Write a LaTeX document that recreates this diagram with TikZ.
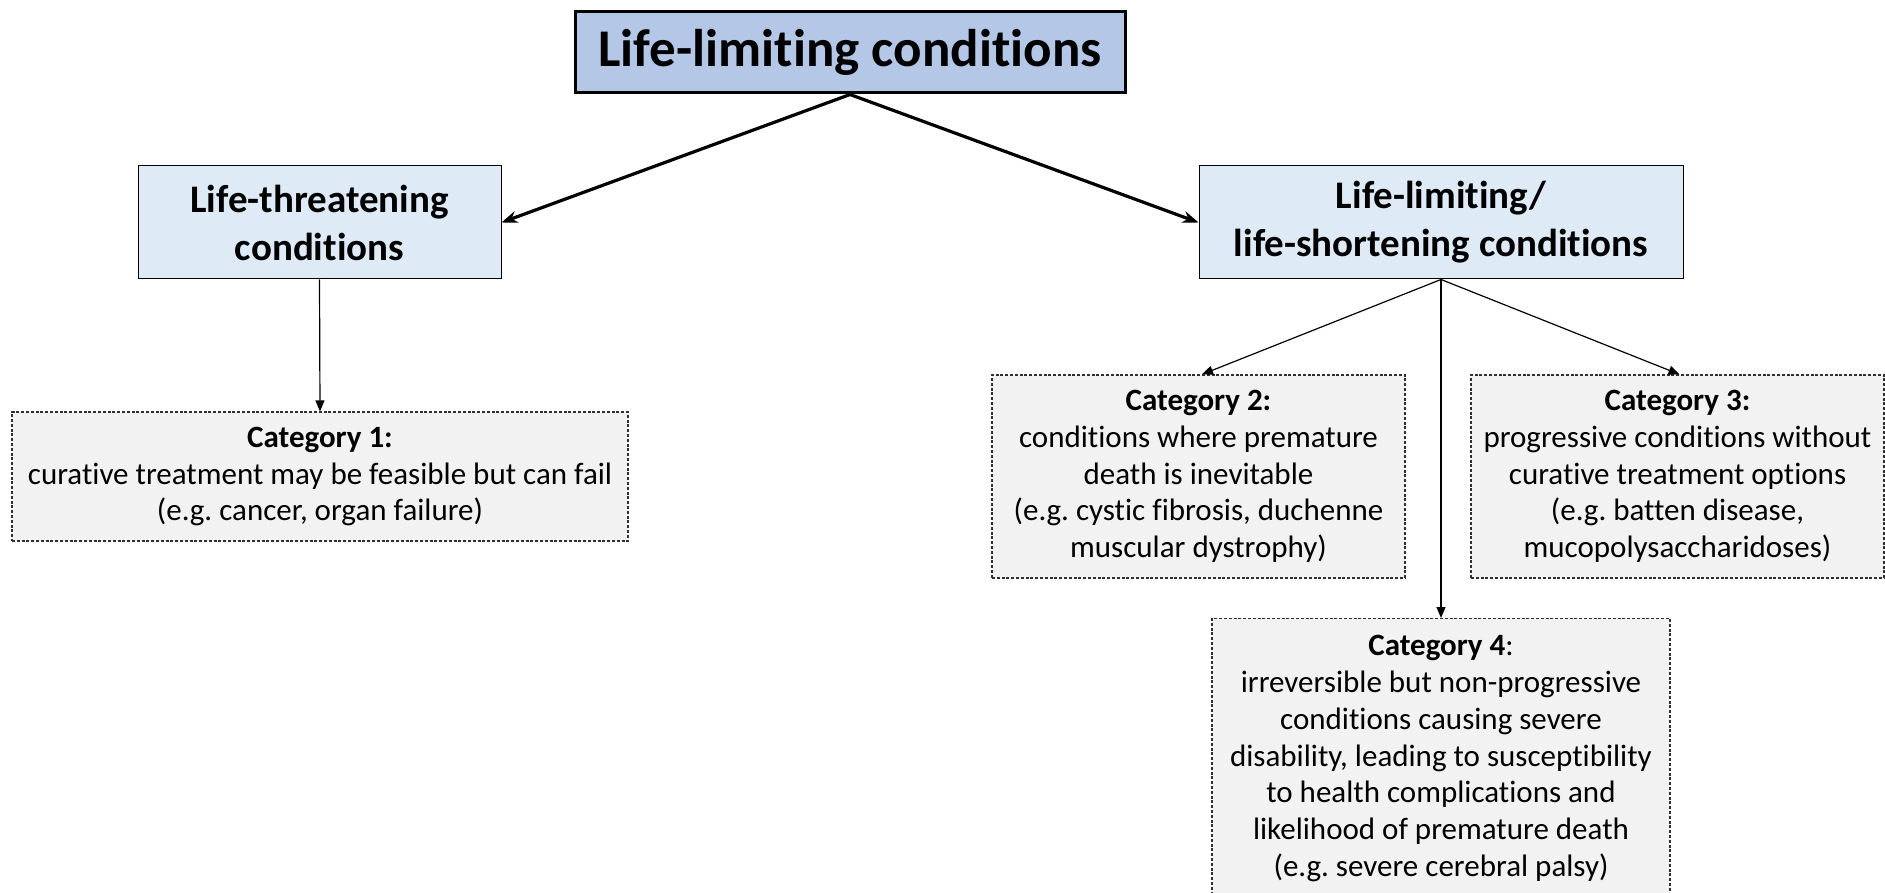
\documentclass[tikz,border=0pt]{standalone}
\usepackage{fontspec}
\setmainfont{Carlito}[Ligatures=NoCommon]
\usetikzlibrary{arrows.meta}
\frenchspacing
\definecolor{rootfill}{HTML}{B4C7E7}
\definecolor{midfill}{HTML}{DEEBF7}
\definecolor{catfill}{HTML}{F2F2F2}
\definecolor{catline}{HTML}{303030}
\begin{document}
\begin{tikzpicture}[x=1pt,y=1pt,
  rootbox/.style={draw=black, line width=3pt, fill=rootfill, minimum width=550pt, minimum height=81pt, inner sep=0pt,
    font=\fontsize{53}{60}\selectfont\bfseries},
  midbox/.style={draw=black, line width=1pt, fill=midfill, minimum height=113pt, inner sep=0pt, align=center,
    font=\fontsize{39}{48}\selectfont\bfseries},
  catbox/.style={draw=catline, line width=1.2pt, dash pattern=on 3pt off 1.8pt, fill=catfill, inner xsep=0pt, inner ysep=0pt, align=center,
    font=\fontsize{31}{36.7}\selectfont},
  bigarrow/.style={line width=3.2pt, -{Stealth[length=16pt,width=12pt]}},
  thinarrow/.style={line width=1.2pt, -{Triangle[length=11pt,width=9pt]}}
]
\useasboundingbox (0,0) rectangle (1885,-893);
\clip (0,0) rectangle (1885,-893);

\node[rootbox] (root) at (850,-52.5) {Life-limiting conditions};

\node[midbox, minimum width=363pt] (lt) at (319.5,-222.5) {Life-threatening\\conditions};
\node[midbox, minimum width=484pt] (ll) at (1441,-222.5) {Life-limiting/\\life-shortening conditions};

\node[catbox, minimum width=616pt, minimum height=129pt] (c1) at (320,-476.5)
  {\textbf{Category 1:}\\curative treatment may be feasible but can fail\\(e.g. cancer, organ failure)};
\node[catbox, minimum width=413pt, minimum height=203pt] (c2) at (1198.5,-476.5)
  {\textbf{Category 2:}\\conditions where premature\\death is inevitable\\(e.g. cystic fibrosis, duchenne\\muscular dystrophy)};
\node[catbox, minimum width=413pt, minimum height=203pt] (c3) at (1677.5,-476.5)
  {\textbf{Category 3:}\\progressive conditions without\\curative treatment options\\(e.g. batten disease,\\mucopolysaccharidoses)};
\node[catbox, minimum width=458pt, anchor=north, inner ysep=17pt] (c4) at (1441,-618)
  {\textbf{Category 4}:\\irreversible but non-progressive\\conditions causing severe\\disability, leading to susceptibility\\to health complications and\\likelihood of premature death\\(e.g. severe cerebral palsy)};

\draw[bigarrow] (root.south) -- (lt.east);
\draw[bigarrow] (root.south) -- (ll.west);
\draw[thinarrow] (lt.south) -- (c1.north);
\draw[thinarrow] (ll.south) -- ([xshift=3.5pt]c2.north);
\draw[thinarrow] (ll.south) -- ([xshift=2pt]c3.north);
\draw[thinarrow] (ll.south) -- (c4.north);
\end{tikzpicture}
\end{document}
